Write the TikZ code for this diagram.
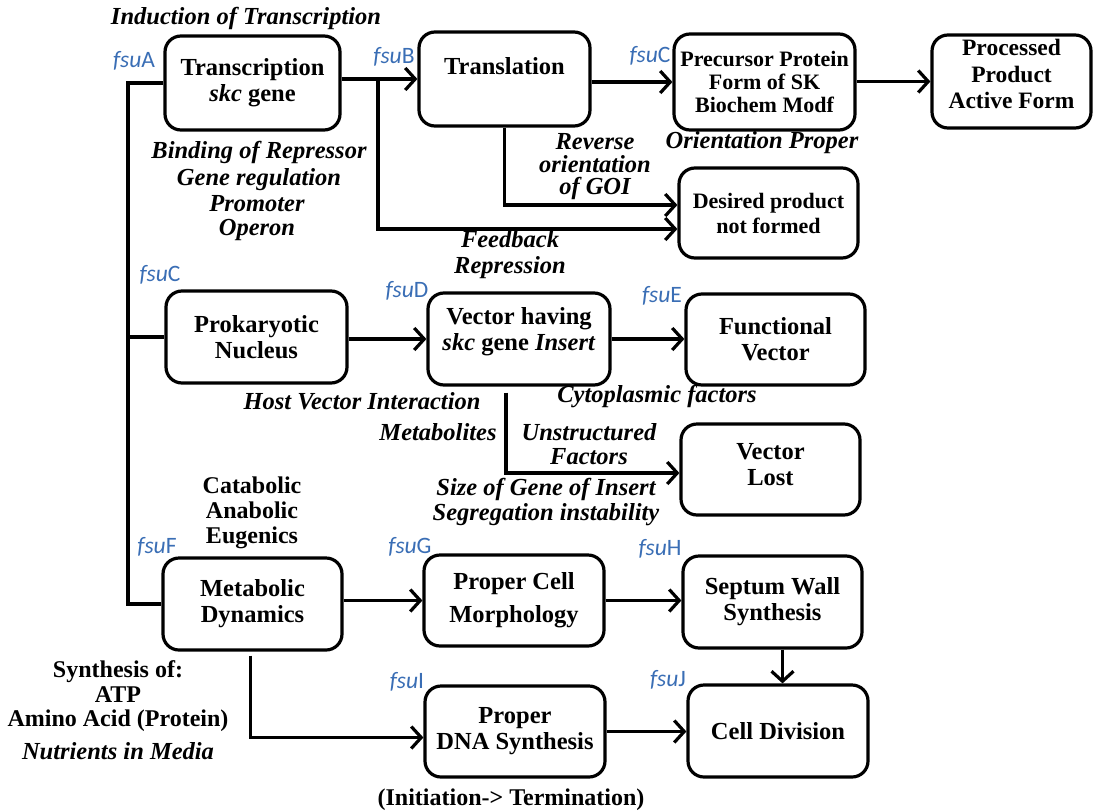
\documentclass[tikz,border=0pt]{standalone}
\usepackage{fontspec}
\setmainfont{Liberation Serif}
\newfontfamily\fsufont{Carlito}
\usetikzlibrary{arrows.meta}
\definecolor{fsublue}{HTML}{3A6EB5}
\tikzset{
  box/.style={draw, line width=3.2pt, rounded corners=16pt, align=center,
    font=\fontsize{24.5}{26}\selectfont\bfseries, inner sep=0pt},
  conn/.style={line width=3.2pt, -{Straight Barb[length=10pt,width=22pt]}},
  plain/.style={line width=3.2pt},
  fsu/.style={font=\fsufont\fontsize{23.5}{24}\selectfont, text=fsublue, inner sep=0pt},
  note/.style={font=\fontsize{24.5}{26}\selectfont\bfseries\itshape, align=center, inner sep=0pt},
  unote/.style={font=\fontsize{24}{25}\selectfont\bfseries, align=center, inner sep=0pt}
}
\newcommand{\fsulab}[1]{\textit{fsu}#1}
\begin{document}
\begin{tikzpicture}[x=1pt,y=-1pt]
\useasboundingbox (0,0) rectangle (1094,811);
% boxes
\node[box, minimum width=175pt, minimum height=94pt] (trans) at (252.5,83) {Transcription\\\textit{skc} gene};
\node[box, minimum width=171pt, minimum height=94pt] (transl) at (504.5,79) {Translation\\~};
\node[box, minimum width=181pt, minimum height=96pt, font=\fontsize{22}{23}\selectfont\bfseries] (prec) at (764.5,82) {Precursor Protein\\Form of SK\\Biochem Modf};
\node[box, minimum width=159pt, minimum height=93pt, font=\fontsize{23.5}{26.5}\selectfont\bfseries] (proc) at (1011.5,81.5) {Processed\\Product\\Active Form\\[-12pt]~};
\node[box, minimum width=179pt, minimum height=90pt, font=\fontsize{22}{25}\selectfont\bfseries] (desired) at (768.5,213) {Desired product\\not formed};
\node[box, minimum width=181pt, minimum height=92pt] (prok) at (256.5,337) {Prokaryotic\\Nucleus};
\node[box, minimum width=182pt, minimum height=92pt] (vect) at (519,339) {Vector having\\\textit{skc} gene \textit{Insert}\\[-6pt]~};
\node[box, minimum width=179pt, minimum height=91pt] (func) at (775.5,339.5) {Functional\\Vector};
\node[box, minimum width=179pt, minimum height=91pt] (vlost) at (770.5,469.5) {Vector\\Lost\\[-16pt]~};
\node[box, minimum width=179pt, minimum height=92pt] (metab) at (252.5,604) {Metabolic\\Dynamics};
\node[box, minimum width=180pt, minimum height=91pt] (morph) at (514,600.5) {Proper Cell\\[7pt]Morphology};
\node[box, minimum width=179pt, minimum height=92pt] (septum) at (772.5,602) {Septum Wall\\Synthesis};
\node[box, minimum width=180pt, minimum height=91pt] (dna) at (515,731.5) {Proper\\DNA Synthesis};
\node[box, minimum width=180pt, minimum height=92pt] (celldiv) at (778,731) {Cell Division};
% fsu labels
\node[fsu] (fA) at (134,61) {\fsulab{A}};
\node[fsu] (fB) at (394,57) {\fsulab{B}};
\node[fsu] (fC1) at (650,56) {\fsulab{C}};
\node[fsu] (fC2) at (160,275) {\fsulab{C}};
\node[fsu] (fD) at (407,291) {\fsulab{D}};
\node[fsu] (fE) at (662,296) {\fsulab{E}};
\node[fsu] (fF) at (157,547) {\fsulab{F}};
\node[fsu] (fG) at (410,547) {\fsulab{G}};
\node[fsu] (fH) at (660,549) {\fsulab{H}};
\node[fsu] (fI) at (407,682) {\fsulab{I}};
\node[fsu] (fJ) at (668,680) {\fsulab{J}};
% notes
\node[note] (ind) at (246,18) {Induction of Transcription};
\node[note, font=\fontsize{24.5}{27}\selectfont\bfseries\itshape] (bind) at (259,165.5) {Binding of Repressor\\Gene regulation};
\node[note, font=\fontsize{24.5}{24}\selectfont\bfseries\itshape] (prom) at (257,218) {Promoter\\Operon};
\node[note, font=\fontsize{24.5}{22.5}\selectfont\bfseries\itshape] (rev) at (595,167) {Reverse\\orientation\\of GOI};
\node[note] (orient) at (762,143) {Orientation Proper};
\node[note] (feed) at (510,255) {Feedback\\Repression};
\node[note] (host) at (362,401) {Host Vector Interaction};
\node[note] (cyto) at (657,397) {Cytoplasmic factors};
\node[note] (metabo) at (438,432) {Metabolites};
\node[note, font=\fontsize{24.5}{24}\selectfont\bfseries\itshape] (unstr) at (589,444) {Unstructured\\Factors};
\node[note, font=\fontsize{24.5}{25}\selectfont\bfseries\itshape] (size) at (546,502.5) {Size of Gene of Insert\\Segregation instability};
\node[unote] (cata) at (252,513) {Catabolic\\Anabolic\\Eugenics};
\node[unote, font=\fontsize{24}{24.5}\selectfont\bfseries] (synth) at (118,696.5) {Synthesis of:\\ATP\\Amino Acid (Protein)};
\node[note] (nutr) at (118,751) {Nutrients in Media};
\node[unote] (init) at (511,800) {(Initiation-> Termination)};
% spine coordinates
\coordinate (sp1) at (128,83);
\coordinate (sp2) at (128,604);
\coordinate (b1) at (378,79);
% connectors
\draw[plain] (trans.west) -- (sp1) -- (sp2) -- (metab.west);
\draw[plain] (sp1 |- prok.west) -- (prok.west);
\draw[conn] (trans.east |- transl.west) -- (transl.west);
\draw[conn] (transl.east |- prec.west) -- (prec.west);
\draw[conn] (prec.east |- proc.west) -- (proc.west);
\draw[conn] (b1) |- ([yshift=-16pt]desired.west);
\draw[conn] (transl.south) |- ([yshift=8pt]desired.west);
\draw[conn] (prok.east |- vect.west) -- (vect.west);
\draw[conn] (vect.east) -- (func.west |- vect.east);
\draw[conn] ([xshift=-13pt,yshift=-6pt]vect.south) |- ([yshift=-3.5pt]vlost.west);
\draw[conn] (metab.east |- morph.west) -- (morph.west);
\draw[conn] (morph.east) -- (septum.west |- morph.east);
\draw[conn] ([xshift=10pt]septum.south) -- ([xshift=10pt]septum.south |- celldiv.north);
\draw[conn] ([xshift=-2pt,yshift=-4pt]metab.south) |- ([yshift=-6pt]dna.west);
\draw[conn] (dna.east) -- (celldiv.west |- dna.east);
\end{tikzpicture}
\end{document}
